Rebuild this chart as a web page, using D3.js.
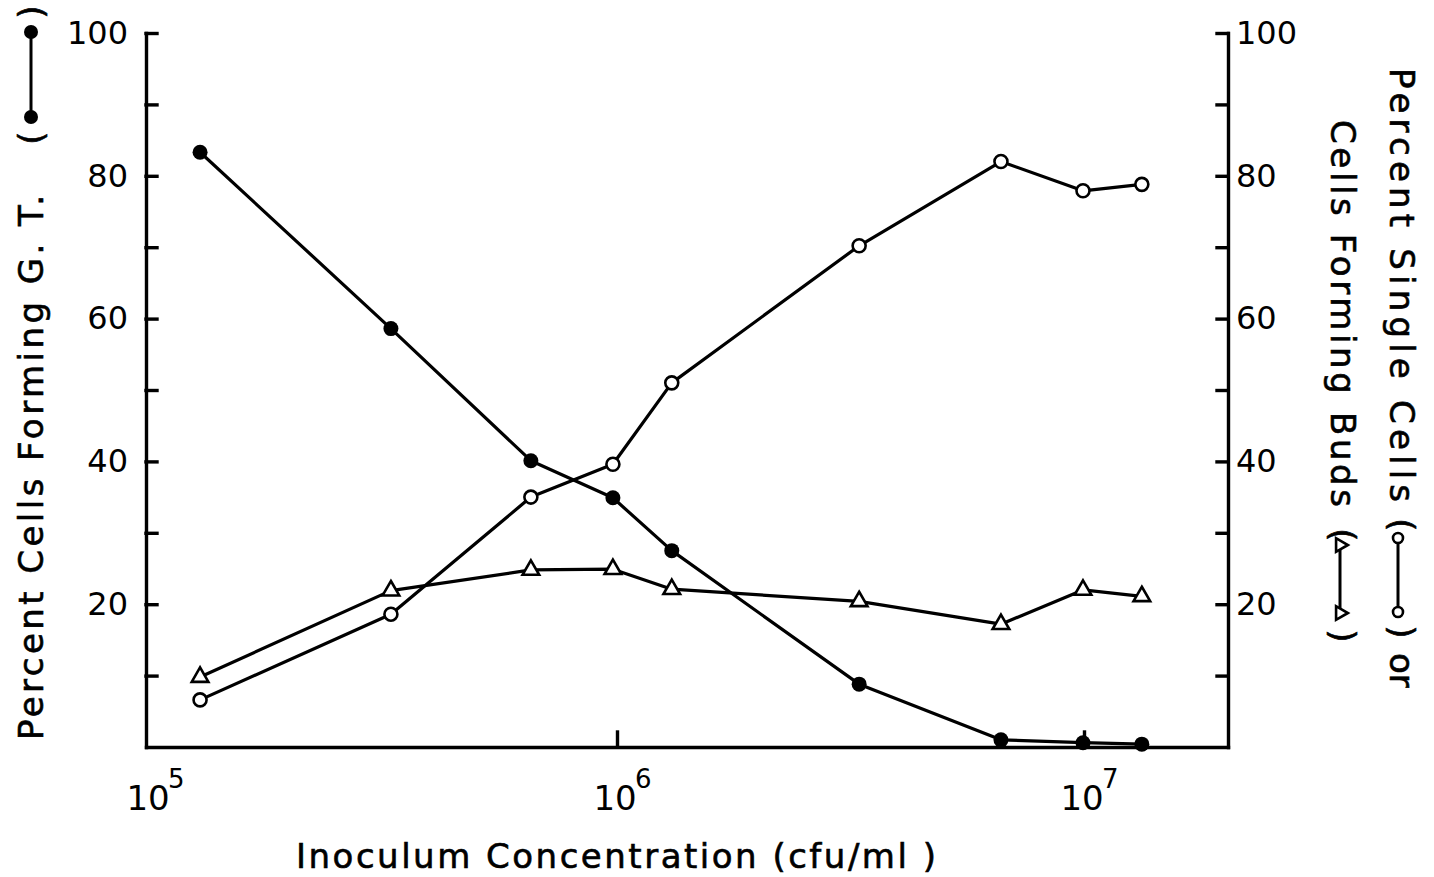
<!DOCTYPE html>
<meta charset="utf-8">
<style>
body { margin: 0; background: #fff; }
svg { display: block; background: #fff; font-family: "DejaVu Sans", sans-serif; }
.axis path, .axis line { stroke: #000; stroke-width: 3.4; stroke-linecap: square; }
.axis text { font-size: 32px; fill: #000; font-family: "DejaVu Sans", sans-serif; }
.serie { fill: none; stroke: #000; stroke-width: 3.2; stroke-linejoin: round; }
.titulo { font-size: 34px; fill: #000; stroke: #000; stroke-width: 0.6; }
.xtick { fill: #000; }
</style>

<svg width="1434" height="877"></svg>

<script src="https://d3js.org/d3.v7.min.js"></script>
<script>
// inoculum concentration (cfu/ml), same for the three series
var conc = [1.28e5, 3.28e5, 6.54e5, 9.8e5, 1.31e6, 3.30e6, 6.64e6, 9.95e6, 1.33e7];
// percent cells forming germ tubes (filled circles, left axis)
var germTubes = [83.3, 58.6, 40.1, 34.9, 27.5, 8.8, 1.0, 0.6, 0.4];
// percent single cells (open circles, right axis)
var singleCells = [6.6, 18.6, 35.0, 39.6, 51.0, 70.2, 82.0, 77.9, 78.8];
// percent cells forming buds (triangles, right axis)
var buds = [9.8, 21.9, 24.8, 24.9, 22.1, 20.4, 17.2, 22.0, 21.1];
// ticks
var yTicks = [10, 20, 30, 40, 50, 60, 70, 80, 90, 100];
var yLabels = [20, 40, 60, 80, 100];
var xExps = [5, 6, 7];

var svg = d3.select("svg");

var x = d3.scaleLog().domain([1e5, 1e7]).range([150, 1084]);
var y = d3.scaleLinear().domain([0, 100]).range([747, 33]);
// scale used only to draw the full bottom line of the frame
var xFrame = x.copy().domain([x.invert(146), x.invert(1228)]).range([146, 1228]);

var fmtY = d => yLabels.indexOf(d) >= 0 ? d : "";

// eixos
svg.append("g")
    .attr("class", "axis")
    .attr("transform", "translate(0,747)")
    .call(d3.axisBottom(xFrame).tickValues([1e6, 1e7]).tickSizeInner(-15).tickSizeOuter(0).tickFormat(""));

svg.append("g")
    .attr("class", "axis")
    .attr("transform", "translate(146,0)")
    .call(d3.axisLeft(y).tickValues(yTicks).tickSizeInner(-11).tickSizeOuter(0).tickPadding(18).tickFormat(fmtY));

svg.append("g")
    .attr("class", "axis")
    .attr("transform", "translate(1228,0)")
    .call(d3.axisRight(y).tickValues(yTicks).tickSizeInner(-11).tickSizeOuter(0).tickPadding(8).tickFormat(fmtY));

svg.selectAll(".axis .domain").attr("stroke", "#000");
svg.selectAll(".axis line").attr("stroke-width", 2.6);

// x tick labels 10^n
var xl = svg.append("g").selectAll("g")
    .data(xExps)
    .enter().append("g")
      .attr("transform", d => "translate(" + x(Math.pow(10, d)) + ",0)");
xl.append("text")
    .attr("class", "xtick")
    .attr("x", -2)
    .attr("y", 810)
    .attr("text-anchor", "middle")
    .attr("font-size", 34)
    .text("10");
xl.append("text")
    .attr("class", "xtick")
    .attr("x", 18)
    .attr("y", 788)
    .attr("font-size", 26)
    .text(d => d);

// lines
var line = d3.line()
    .x((d, i) => x(conc[i]))
    .y(d => y(d));

[germTubes, singleCells, buds].forEach(function(s) {
  svg.append("path").attr("class", "serie").attr("d", line(s));
});

// markers
svg.append("g").selectAll("circle")
    .data(germTubes)
    .enter().append("circle")
      .attr("cx", (d, i) => x(conc[i]))
      .attr("cy", d => y(d))
      .attr("r", 7.5)
      .attr("fill", "#000");

svg.append("g").selectAll("circle")
    .data(singleCells)
    .enter().append("circle")
      .attr("cx", (d, i) => x(conc[i]))
      .attr("cy", d => y(d))
      .attr("r", 6.5)
      .attr("fill", "#fff")
      .attr("stroke", "#000")
      .attr("stroke-width", 2.6);

var tri = d3.symbol(d3.symbolTriangle, 120);
svg.append("g").selectAll("path")
    .data(buds)
    .enter().append("path")
      .attr("d", tri)
      .attr("transform", (d, i) => "translate(" + x(conc[i]) + "," + y(d) + ")")
      .attr("fill", "#fff")
      .attr("stroke", "#000")
      .attr("stroke-width", 2.6);

// x title
svg.append("text")
    .attr("class", "titulo")
    .attr("x", 296)
    .attr("y", 868)
    .attr("textLength", 640)
    .attr("lengthAdjust", "spacing")
    .text("Inoculum Concentration (cfu/ml )");

// left title, rotated
var tl = svg.append("g").attr("transform", "translate(43,0) rotate(-90)");
tl.append("text")
    .attr("class", "titulo")
    .attr("x", -740)
    .attr("textLength", 545)
    .attr("lengthAdjust", "spacing")
    .text("Percent Cells Forming G. T.");
tl.append("text").attr("class", "titulo").attr("x", -138).attr("text-anchor", "middle").text("(");
tl.append("text").attr("class", "titulo").attr("x", -12).attr("text-anchor", "middle").text(")");
tl.append("line")
    .attr("x1", -117).attr("x2", -32).attr("y1", -12).attr("y2", -12)
    .attr("stroke", "#000").attr("stroke-width", 3);
tl.selectAll("circle.leg").data([-117, -32]).enter().append("circle")
    .attr("cx", d => d).attr("cy", -12).attr("r", 7).attr("fill", "#000");

// right titles, rotated the other way
var tr1 = svg.append("g").attr("transform", "translate(1390,0) rotate(90)");
tr1.append("text")
    .attr("class", "titulo")
    .attr("x", 68)
    .attr("textLength", 434)
    .attr("lengthAdjust", "spacing")
    .text("Percent Single Cells");
tr1.append("text").attr("class", "titulo").attr("x", 525).attr("text-anchor", "middle").text("(");
tr1.append("text").attr("class", "titulo").attr("x", 632).attr("text-anchor", "middle").text(")");
tr1.append("text").attr("class", "titulo").attr("x", 653).text("or");
tr1.append("line")
    .attr("x1", 538).attr("x2", 612).attr("y1", -8).attr("y2", -8)
    .attr("stroke", "#000").attr("stroke-width", 3);
tr1.selectAll("circle.leg").data([538, 612]).enter().append("circle")
    .attr("cx", d => d).attr("cy", -8).attr("r", 5)
    .attr("fill", "#fff").attr("stroke", "#000").attr("stroke-width", 2.6);

var tr2 = svg.append("g").attr("transform", "translate(1331,0) rotate(90)");
tr2.append("text")
    .attr("class", "titulo")
    .attr("x", 120)
    .attr("textLength", 387)
    .attr("lengthAdjust", "spacing")
    .text("Cells Forming Buds");
tr2.append("text").attr("class", "titulo").attr("x", 535).attr("text-anchor", "middle").text("(");
tr2.append("text").attr("class", "titulo").attr("x", 636).attr("text-anchor", "middle").text(")");
tr2.append("line")
    .attr("x1", 545).attr("x2", 613).attr("y1", -9).attr("y2", -9)
    .attr("stroke", "#000").attr("stroke-width", 3);
tr2.selectAll("path.leg").data([545, 613]).enter().append("path")
    .attr("d", d3.symbol(d3.symbolTriangle, 80))
    .attr("transform", d => "translate(" + d + ",-9)")
    .attr("fill", "#fff").attr("stroke", "#000").attr("stroke-width", 2.6);
</script>
